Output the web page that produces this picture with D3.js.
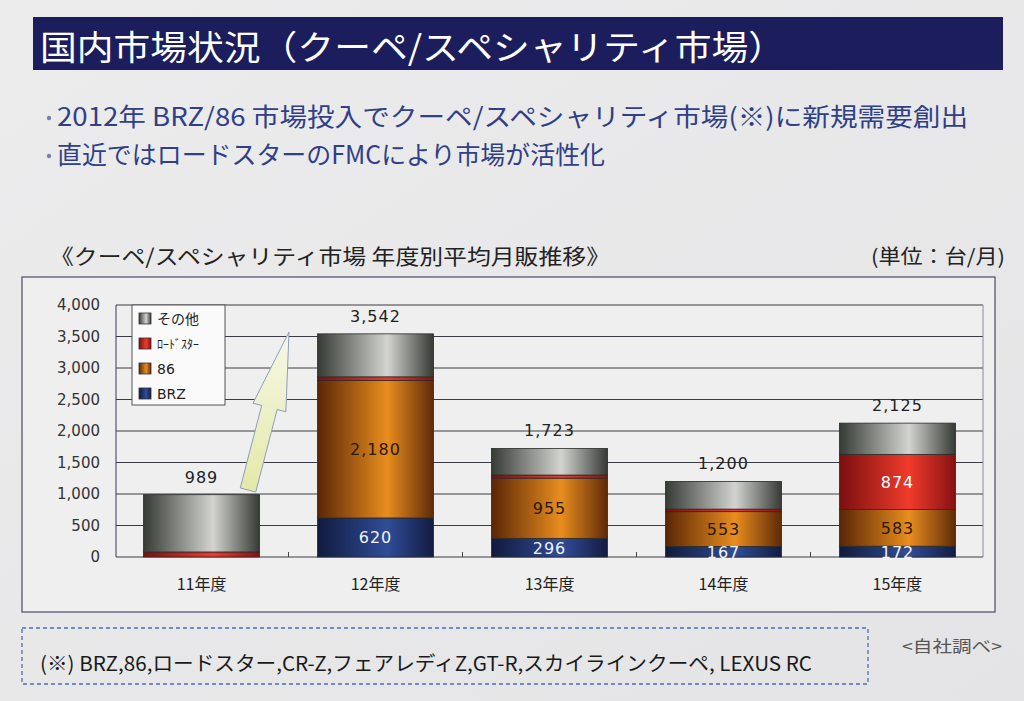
<!DOCTYPE html>
<html><head><meta charset="utf-8">
<script src="https://cdn.jsdelivr.net/npm/d3@7"></script>
<style>body{margin:0;background:#e9e9ea;}svg{display:block;}</style>
</head><body>
<svg id="c" width="1024" height="701"></svg>
<script>
const categories = ["11年度","12年度","13年度","14年度","15年度"];
const brz      = [0, 620, 296, 167, 172];
const s86      = [0, 2180, 955, 553, 583];
const roadster = [80, 60, 50, 40, 874];
const other    = [909, 682, 422, 440, 496];
const totals   = [989, 3542, 1723, 1200, 2125];
const yTicks   = [0, 500, 1000, 1500, 2000, 2500, 3000, 3500, 4000];
const seriesNames = ["BRZ", "86", "ロードスター", "その他"];
const legendLabels = ["その他", "ﾛｰﾄﾞｽﾀｰ", "86", "BRZ"];

const JP = "'Noto Sans CJK JP','Noto Sans',sans-serif";
const NUM = "'DejaVu Sans',Verdana,sans-serif";
const svg = d3.select("#c");

const defs = svg.append("defs");
const bg = defs.append("linearGradient").attr("id","bg").attr("x1",0).attr("x2",1).attr("y1",0).attr("y2",1);
bg.append("stop").attr("offset","0%").attr("stop-color","#ececed");
bg.append("stop").attr("offset","100%").attr("stop-color","#e4e4e6");
svg.append("rect").attr("width",1024).attr("height",701).attr("fill","url(#bg)");

// title bar
svg.append("rect").attr("x",33).attr("y",17).attr("width",970).attr("height",53).attr("fill","#1b1d5c");
svg.append("text").attr("x",40).attr("y",60).attr("fill","#fff").attr("font-family",JP)
  .attr("font-size",34).attr("textLength",745).attr("lengthAdjust","spacingAndGlyphs")
  .text("国内市場状況（クーペ/スペシャリティ市場）");

// bullets
[[126,"2012年  BRZ/86 市場投入でクーペ/スペシャリティ市場(※)に新規需要創出",911],
 [164,"直近ではロードスターのFMCにより市場が活性化",548]].forEach(([yy,t,w])=>{
  svg.append("circle").attr("cx",49).attr("cy",yy-8).attr("r",2.2).attr("fill","#7080ad");
  svg.append("text").attr("x",57).attr("y",yy).attr("fill","#2f3f88").attr("font-family",JP)
    .attr("font-size",25).attr("textLength",w).attr("lengthAdjust","spacingAndGlyphs").text(t);
});

// subtitle
svg.append("text").attr("x",50).attr("y",264).attr("fill","#222").attr("font-family",JP)
  .attr("font-size",21).attr("textLength",560).attr("lengthAdjust","spacingAndGlyphs")
  .text("《クーペ/スペシャリティ市場  年度別平均月販推移》");
svg.append("text").attr("x",1005).attr("y",264).attr("text-anchor","end").attr("fill","#222").attr("font-family",JP)
  .attr("font-size",20).attr("textLength",134).attr("lengthAdjust","spacingAndGlyphs")
  .text("(単位：台/月)");

// chart frame
svg.append("rect").attr("x",22).attr("y",277).attr("width",973).attr("height",335)
  .attr("fill","#efefef").attr("stroke","#4a4a66").attr("stroke-width",1.2);

const x0 = 116, x1 = 983, yTop = 305, yBot = 557;
const x = d3.scaleBand().domain(categories).range([x0,x1]).paddingInner(0.333).paddingOuter(0.158);
const y = d3.scaleLinear().domain([0,4000]).range([yBot,yTop]);

// gridlines
const g = svg.append("g");
g.selectAll("line.grid").data(yTicks).join("line")
  .attr("x1",x0).attr("x2",x1).attr("y1",d=>y(d)).attr("y2",d=>y(d))
  .attr("stroke","#3a3a44").attr("stroke-width",1);
g.append("line").attr("x1",x0).attr("x2",x0).attr("y1",yTop).attr("y2",yBot).attr("stroke","#3a3a55");
g.append("line").attr("x1",x1).attr("x2",x1).attr("y1",yTop).attr("y2",yBot).attr("stroke","#8a8aa0");

// y axis
const yAxis = d3.axisLeft(y).tickValues(yTicks).tickSize(0).tickPadding(16).tickFormat(d3.format(","));
const ya = svg.append("g").attr("transform",`translate(${x0},0)`).call(yAxis);
ya.select(".domain").remove();
ya.selectAll("text").attr("font-family",NUM).attr("font-size",15).attr("fill","#333");

// x axis
const xAxis = d3.axisBottom(x).tickSize(0).tickPadding(22);
const xa = svg.append("g").attr("transform",`translate(0,${yBot})`).call(xAxis);
xa.select(".domain").remove();
xa.selectAll("text").attr("font-family",JP).attr("font-size",16).attr("fill","#222");
const step = x.step();
categories.slice(1).forEach(c=>{
  const bx = x(c) - step*x.paddingInner()/2;
  svg.append("line").attr("x1",bx).attr("x2",bx).attr("y1",yBot-5).attr("y2",yBot).attr("stroke","#444");
});

// gradients (array to keep order)
const gradList = [
  ["BRZ", ["#101a3e","#304d98","#121b42"]],
  ["86", ["#5a2606","#e98d1e","#5e2a08"]],
  ["ロードスター", ["#7a0f0f","#f03b2b","#861212"]],
  ["その他", ["#363b35","#d3d4cf","#363a34"]]
];
const gradId = {};
gradList.forEach(([k,c],i)=>{
  const lg = defs.append("linearGradient").attr("id","g"+i).attr("x1",0).attr("x2",1).attr("y1",0).attr("y2",0);
  lg.append("stop").attr("offset","0%").attr("stop-color",c[0]);
  lg.append("stop").attr("offset","60%").attr("stop-color",c[1]);
  lg.append("stop").attr("offset","100%").attr("stop-color",c[2]);
  gradId[k] = "url(#g"+i+")";
});

const table = categories.map((c,i)=>({cat:c,"BRZ":brz[i],"86":s86[i],"ロードスター":roadster[i],"その他":other[i],total:totals[i]}));
const stack = d3.stack().keys(seriesNames)(table);

const bars = svg.append("g");
stack.forEach(layer=>{
  bars.append("g").selectAll("rect").data(layer).join("rect")
    .attr("x",d=>x(d.data.cat)).attr("width",x.bandwidth())
    .attr("y",d=>y(d[1])).attr("height",d=>Math.max(0,y(d[0])-y(d[1])))
    .attr("fill",gradId[layer.key]).attr("stroke","#2a2a2a").attr("stroke-width",d=>d[1]>d[0]?0.8:0);
});

// segment labels
const lblColor = {"BRZ":"#f2f2f2","86":"#2a1a0a","ロードスター":"#ffffff"};
stack.forEach(layer=>{
  if(layer.key==="その他") return;
  bars.append("g").selectAll("text").data(layer.filter(d=>d[1]-d[0]>=150)).join("text")
    .attr("x",d=>x(d.data.cat)+x.bandwidth()/2).attr("y",d=>(y(d[0])+y(d[1]))/2+6)
    .attr("text-anchor","middle").attr("font-family",NUM).attr("font-size",16).attr("letter-spacing",1)
    .attr("fill",lblColor[layer.key]).text(d=>d3.format(",")(d[1]-d[0]));
});

// totals
svg.append("g").selectAll("text").data(table).join("text")
  .attr("x",d=>x(d.cat)+x.bandwidth()/2).attr("y",d=>y(d.total)-12)
  .attr("text-anchor","middle").attr("font-family",NUM).attr("font-size",16).attr("letter-spacing",1)
  .attr("fill","#222").text(d=>d3.format(",")(d.total));

// arrow annotation
(function(){
  const tail=[248,490], tip=[289,332];
  const dx=tip[0]-tail[0], dy=tip[1]-tail[1], L=Math.hypot(dx,dy);
  const u=[dx/L,dy/L], n=[-u[1],u[0]];
  const hb=[tip[0]-u[0]*78, tip[1]-u[1]*78];
  const sw=8, hw=17;
  const P=(p,k)=>[p[0]+n[0]*k,p[1]+n[1]*k];
  const pts=[P(tail,-sw),P(hb,-sw),P(hb,-hw),tip,P(hb,hw),P(hb,sw),P(tail,sw)];
  const ag=defs.append("linearGradient").attr("id","arr").attr("x1",0).attr("x2",0).attr("y1",1).attr("y2",0);
  ag.append("stop").attr("offset","0%").attr("stop-color","#e3e9a8");
  ag.append("stop").attr("offset","100%").attr("stop-color","#f6f8e6");
  svg.append("polygon").attr("points",pts.map(p=>p.join(",")).join(" "))
    .attr("fill","url(#arr)").attr("stroke","#8e9cbc").attr("stroke-width",1);
})();

// legend
const lg = svg.append("g");
lg.append("rect").attr("x",132).attr("y",305).attr("width",93).attr("height",100)
  .attr("fill","#fafafa").attr("stroke","#555").attr("stroke-width",1);
const legendKeys = ["その他","ロードスター","86","BRZ"];
legendKeys.forEach((k,i)=>{
  const yy = 319 + i*25;
  lg.append("rect").attr("x",139).attr("y",yy-6).attr("width",12).attr("height",11)
    .attr("fill",gradId[k]).attr("stroke","#333").attr("stroke-width",0.8);
  lg.append("text").attr("x",157).attr("y",yy+5).attr("font-family",i>=2?NUM:JP)
    .attr("font-size",i===1?12:14).attr("fill","#222").text(legendLabels[i]);
});

// footnote
svg.append("rect").attr("x",22).attr("y",628).attr("width",846).attr("height",56)
  .attr("fill","none").attr("stroke","#4f6db4").attr("stroke-width",1.3).attr("stroke-dasharray","4,3");
svg.append("text").attr("x",40).attr("y",671).attr("fill","#1a1a1a").attr("font-family",JP)
  .attr("font-size",20).attr("textLength",772).attr("lengthAdjust","spacingAndGlyphs")
  .text("(※) BRZ,86,ロードスター,CR-Z,フェアレディZ,GT-R,スカイラインクーペ,  LEXUS RC");
svg.append("text").attr("x",902).attr("y",652).attr("fill","#555").attr("font-family",JP)
  .attr("font-size",16).attr("textLength",100).attr("lengthAdjust","spacingAndGlyphs")
  .text("<自社調べ>");
</script>
</body></html>
